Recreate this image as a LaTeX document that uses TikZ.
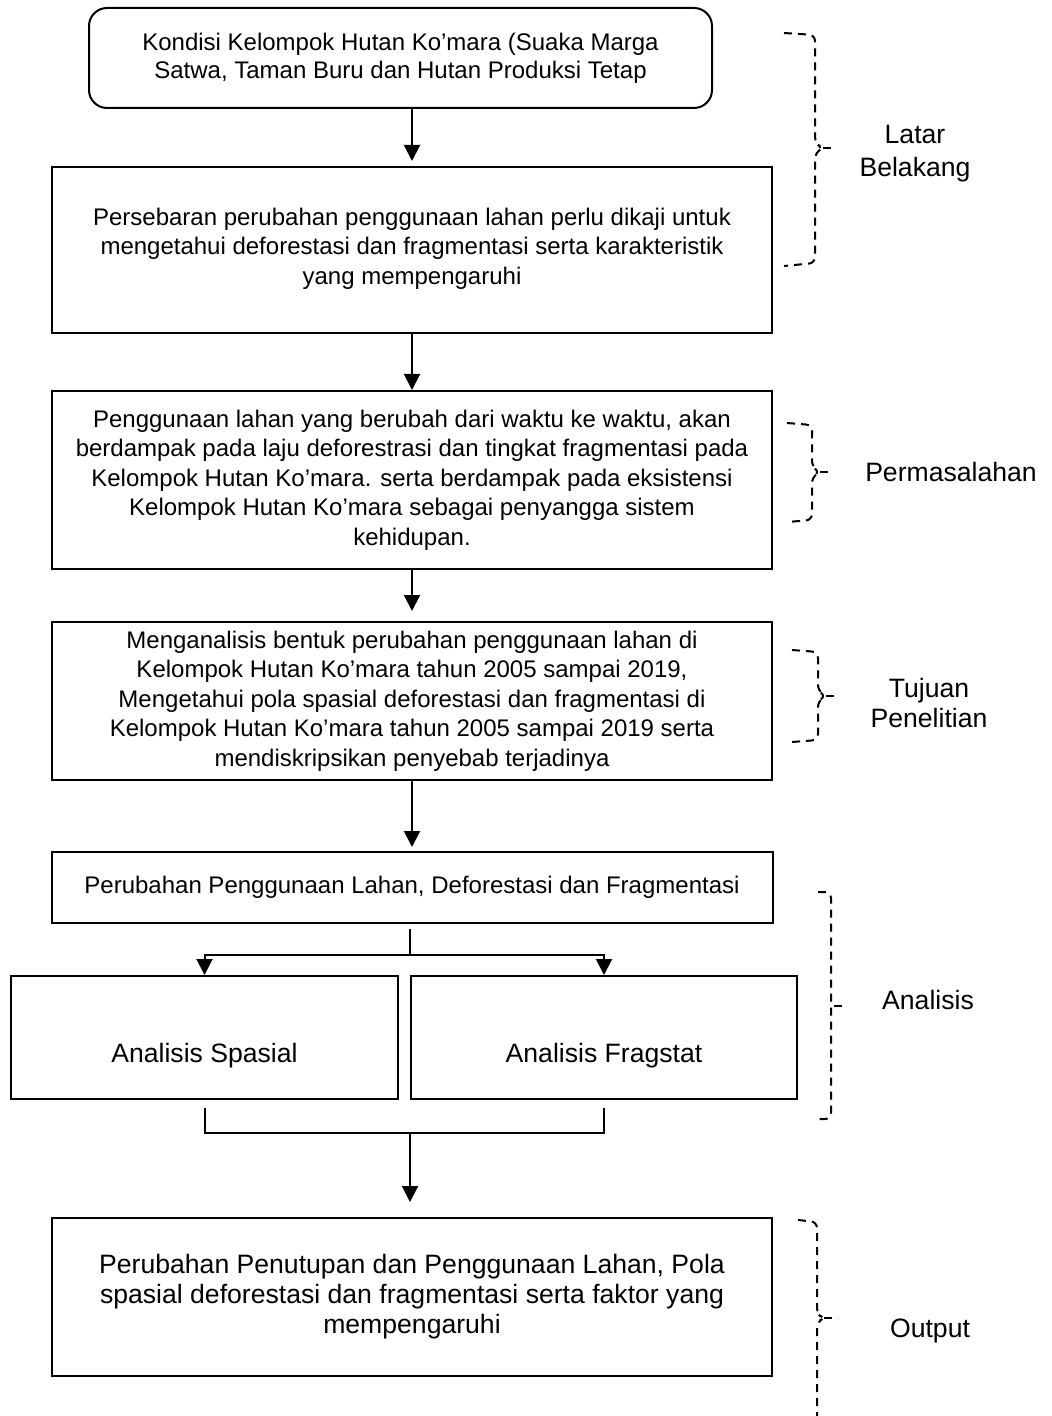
\documentclass[tikz,border=0pt]{standalone}
\usepackage{fontspec}
\setmainfont{Liberation Sans}
\usetikzlibrary{positioning}
\usetikzlibrary{arrows.meta}

\begin{document}
\begin{tikzpicture}[x=0.5pt, y=-0.5pt,
  kotak/.style={draw, line width=1pt, align=center, inner sep=0pt,
    font=\fontsize{12}{14.8}\selectfont},
  besar/.style={align=center, font=\fontsize{13.3}{15}\selectfont},
  panah/.style={-{Triangle[length=8pt, width=8pt]}, line width=1pt},
  kurung/.style={line width=1pt, dash pattern=on 4pt off 3pt, rounded corners=3pt}]
  \useasboundingbox (0,0) rectangle (1051,1416);

  \node[kotak, rounded corners=9pt, minimum width=311.5pt, minimum height=50pt,
    font=\fontsize{12}{14}\selectfont] (kondisi) at (400.5,58)
    {Kondisi Kelompok Hutan Ko’mara (Suaka Marga\\Satwa, Taman Buru dan Hutan Produksi Tetap};
  \node[kotak, minimum width=360pt, minimum height=83pt, text depth=4pt] (persebaran) at (412,250)
    {Persebaran perubahan penggunaan lahan perlu dikaji untuk\\
     mengetahui deforestasi dan fragmentasi serta karakteristik\\yang mempengaruhi};
  \node[kotak, minimum width=360pt, minimum height=89pt] (masalah) at (412,480)
    {Penggunaan lahan yang berubah dari waktu ke waktu, akan\\
     berdampak pada laju deforestrasi dan tingkat fragmentasi pada\\
     Kelompok Hutan Ko’mara. serta berdampak pada eksistensi\\
     Kelompok Hutan Ko’mara sebagai penyangga sistem\\kehidupan.};
  \node[kotak, minimum width=360pt, minimum height=79pt] (tujuan) at (412,701)
    {Menganalisis bentuk perubahan penggunaan lahan di\\
     Kelompok Hutan Ko’mara tahun 2005 sampai 2019,\\
     Mengetahui pola spasial deforestasi dan fragmentasi di\\
     Kelompok Hutan Ko’mara tahun 2005 sampai 2019 serta\\
     mendiskripsikan penyebab terjadinya};
  \node[kotak, minimum width=360.5pt, minimum height=35.5pt] (perubahan) at (412,887.5)
    {Perubahan Penggunaan Lahan, Deforestasi dan Fragmentasi};
  \node[kotak, minimum width=193.5pt, minimum height=61.5pt,
    label={[besar, yshift=-9pt]center:Analisis Spasial}] (spasial) at (204.5,1037.5) {};
  \node[kotak, minimum width=193pt, minimum height=61.5pt,
    label={[besar, yshift=-9pt]center:Analisis Fragstat}] (fragstat) at (604,1037.5) {};
  \node[kotak, besar, minimum width=360pt, minimum height=79pt] (output) at (412,1297)
    {Perubahan Penutupan dan Penggunaan Lahan, Pola\\
     spasial deforestasi dan fragmentasi serta faktor yang\\mempengaruhi};

  \draw[panah, shorten >=2.5pt] (kondisi.south -| persebaran.north) -- (persebaran.north);
  \draw[panah] (persebaran) -- (masalah);
  \draw[panah, shorten >=5pt] (masalah) -- (tujuan);
  \draw[panah, shorten >=2pt] (tujuan) -- (perubahan);

  % percabangan ke dua analisis
  \coordinate (cabang) at (410,955);
  \draw[line width=1pt, shorten <=2.5pt] (perubahan.south -| cabang) -- (cabang);
  \draw[panah] (cabang) -| (spasial.north);
  \draw[panah] (cabang) -| (fragstat.north);

  \coordinate (gabung) at (410,1133);
  \draw[line width=1pt, shorten <=4pt, shorten >=4pt]
    (spasial.south) -- (spasial.south |- gabung) -| (fragstat.south);
  \draw[panah, shorten >=7.5pt] (gabung) -- (gabung |- output.north);

  % kurung kanan
  \draw[kurung] (784,33) -- (815,35) -- (815,143) -- (823,148) -- (815,153) -- (815,263) -- (784,266);
  \draw[kurung] (823,148) -- (833,148);
  \node[besar, font=\fontsize{13.3}{16.5}\selectfont] (latar) at (915,154) {Latar\\Belakang};

  \draw[kurung] (787,423) -- (812,425) -- (812,467) -- (820,472) -- (812,477) -- (812,520) -- (787,522);
  \draw[kurung] (820,472) -- (833,472);
  \node[besar] (permasalahan) at (951,472) {Permasalahan};

  \draw[kurung] (792,650) -- (818,652) -- (818,691) -- (826,696) -- (818,701) -- (818,740) -- (792,742);
  \draw[kurung] (826,696) -- (838,696);
  \node[besar] (tujuanlbl) at (929,703) {Tujuan\\Penelitian};

  \draw[kurung] (818,892) -- (831,892) -- (831,1119) -- (819,1119);
  \draw[kurung] (834,1006) -- (843,1006);
  \node[besar] (analisis) at (928,1000) {Analisis};

  \draw[kurung] (798,1220) -- (817,1222) -- (817,1314) -- (824,1318) -- (817,1322) -- (817,1416);
  \draw[kurung] (824,1318) -- (838,1318);
  \node[besar] (outputlbl) at (930,1331) {Output};
\end{tikzpicture}
\end{document}
